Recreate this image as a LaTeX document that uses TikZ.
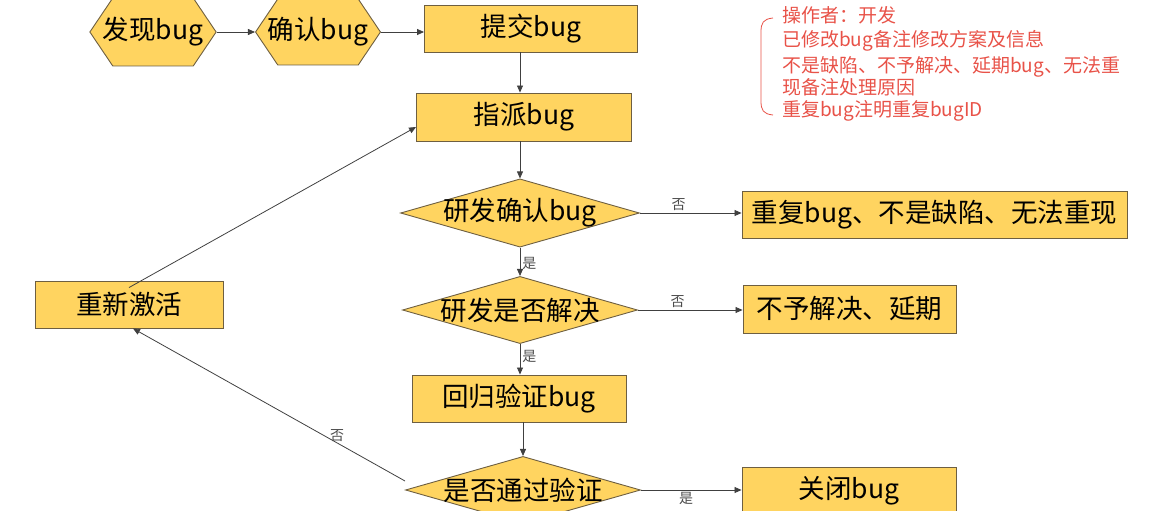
\documentclass[tikz,border=0pt]{standalone}
\usepackage{fontspec}
\setmainfont{Noto Sans CJK SC}
\usetikzlibrary{shapes.geometric, shapes.symbols, arrows.meta, positioning}
\definecolor{boxfill}{RGB}{255,212,96}
\definecolor{boxline}{RGB}{110,95,65}
\definecolor{notered}{RGB}{232,82,72}
\tikzset{
    x=1pt, y=-1pt, % pixel-like units, y going down
    box/.style={rectangle, draw=boxline, fill=boxfill, line width=0.9pt, inner sep=0pt, font=\fontsize{26.5}{29}\selectfont},
    hexbox/.style={signal, signal to=west and east, signal pointer angle=112, draw=boxline, fill=boxfill, line width=0.9pt, inner ysep=0pt, inner xsep=-10pt, font=\fontsize{26.5}{29}\selectfont},
    decision/.style={diamond, aspect=3.5, draw=boxline, fill=boxfill, line width=0.9pt, inner ysep=0pt, inner xsep=-5pt, minimum width=234pt, minimum height=66pt, font=\fontsize{26.5}{29}\selectfont},
    flow/.style={-{Triangle[length=7pt,width=6pt]}, draw=black!75, line width=0.8pt},
    tag/.style={font=\fontsize{14}{16}\selectfont, text=black!70, inner sep=2pt},
    note/.style={text=notered, anchor=west, inner sep=0pt, align=left, font=\fontsize{19}{19}\selectfont},
}
\begin{document}
\begin{tikzpicture}
\useasboundingbox (0,0) rectangle (1149,511);
% main column
\node[hexbox, minimum height=68pt] (find) at (153,32) {发现bug};
\node[hexbox, minimum height=66pt] (confirm) at (318,32) {确认bug};
\node[box, minimum width=213pt, minimum height=47pt] (submit) at (531,28.5) {提交bug};
\node[box, minimum width=215pt, minimum height=48pt] (assign) at (524,117) {指派bug};
\node[decision, inner xsep=-8pt] (devcheck) at (520,213) {研发确认bug};
\node[decision] (devfix) at (520,310) {研发是否解决};
\node[box, minimum width=214pt, minimum height=47pt] (retest) at (519,398.5) {回归验证bug};
\node[decision] (passed) at (523,490) {是否通过验证};
% right side
\node[box, minimum width=385pt, minimum height=47pt] (invalid) at (934.5,215) {重复bug、不是缺陷、无法重现};
\node[box, minimum width=213pt, minimum height=48pt] (defer) at (849.5,309) {不予解决、延期};
\node[box, minimum width=214pt, minimum height=47pt] (close) at (849,490.5) {关闭bug};
% left side
\node[box, minimum width=188pt, minimum height=47pt] (reopen) at (129,304.5) {重新激活};

% connectors
\draw[flow] (find.east) -- (confirm.west);
\draw[flow] (confirm.east) -- (confirm.east -| submit.west);
\draw[flow] (submit.south -| devcheck) -- (assign.north -| devcheck);
\draw[flow] (assign.south -| devcheck) -- (devcheck.north);
\draw[flow] (devcheck.east) -- node[tag, above, pos=0.38] {否} (devcheck.east -| invalid.west);
\draw[flow] (devcheck.south) -- node[tag, right, pos=0.55] {是} (devfix.north);
\draw[flow] (devfix.east) -- node[tag, above, pos=0.38] {否} (devfix.east -| defer.west);
\draw[flow] (devfix.south) -- node[tag, right, pos=0.4] {是} (devfix.south |- retest.north);
\draw[flow] (retest.south -| passed) -- (passed.north);
\draw[flow] (passed.east) -- node[tag, below, pos=0.45] {是} (passed.east -| close.west);
\draw[flow] ([yshift=9pt]passed.west) -- node[tag, pos=0.25, anchor=south, inner sep=1pt] {否} ([xshift=4pt]reopen.south);
\draw[flow] ([yshift=-7pt]reopen.north) -- ([yshift=-10pt]assign.west);

% developer notes
\draw[notered, line width=0.8pt] (773,18) .. controls (763,19) and (761,23) .. (761,32)
    -- (761,101) .. controls (761,110) and (763,114) .. (773,115);
\node[note] (note1) at (782,15) {操作者：开发};
\node[note] (note2) at (782,41) {已修改bug备注修改方案及信息};
\node[note] (note3) at (782,76) {不是缺陷、不予解决、延期bug、无法重\\现备注处理原因};
\node[note] (note4) at (782,111) {重复bug注明重复bugID};
\end{tikzpicture}
\end{document}
